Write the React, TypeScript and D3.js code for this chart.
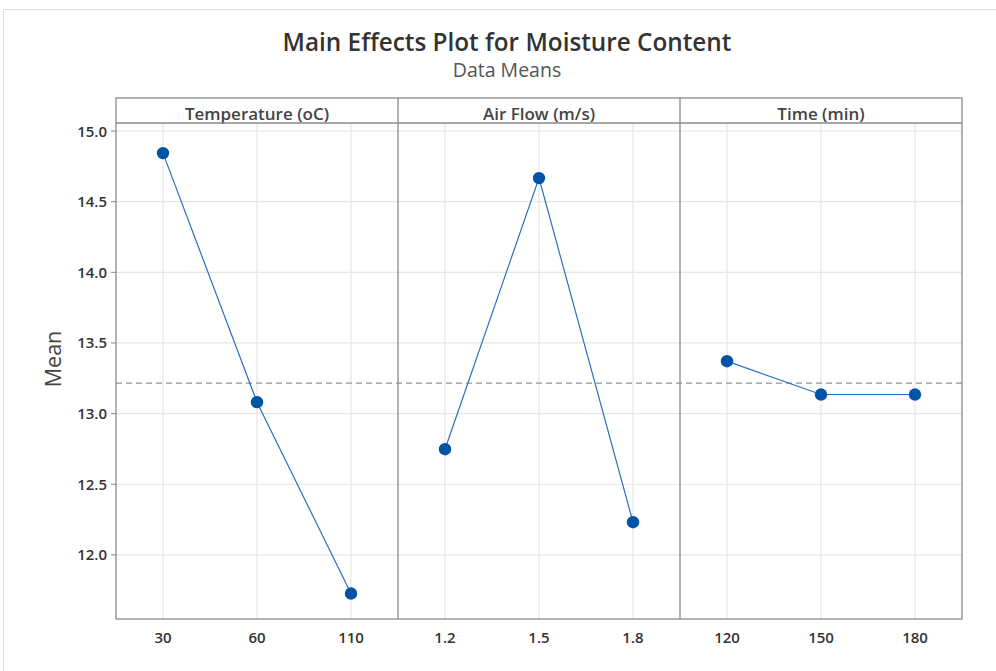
import React from "react";
import * as d3 from "d3";

const factors = ["Temperature (oC)", "Air Flow (m/s)", "Time (min)"];
const levels = [["30", "60", "110"], ["1.2", "1.5", "1.8"], ["120", "150", "180"]];
const means = [[14.844, 13.081, 11.726], [12.748, 14.667, 12.231], [13.371, 13.135, 13.135]];
const overallMean = 13.215;
const yTicks = [12.0, 12.5, 13.0, 13.5, 14.0, 14.5, 15.0];

const W = 996, H = 671;
const left = 116, right = 962, stripTop = 98, plotTop = 123, bottom = 619;
const font = "'Open Sans', 'Noto Sans', sans-serif";
const blue = "#0054A6";

export default function App() {
  const y = d3.scaleLinear().domain([11.546, 15.057]).range([bottom, plotTop]);
  const panelW = (right - left) / factors.length;
  return (
    <svg width={W} height={H} style={{ position: "absolute", left: 0, top: 0, background: "#fff" }}>
      <rect x={3.5} y={9.5} width={1000} height={700} fill="#fff" stroke="#dcdcdc" />
      <text x={507} y={51} textAnchor="middle" fontFamily={font} fontSize={24.3} fontWeight={600} fill="#333">
        Main Effects Plot for Moisture Content
      </text>
      <text x={507} y={77} textAnchor="middle" fontFamily={font} fontSize={19.5} fill="#555">
        Data Means
      </text>
      <text transform={`translate(61,359) rotate(-90)`} textAnchor="middle" fontFamily={font} fontSize={21.5} fill="#444">
        Mean
      </text>
      {factors.map((f, i) => {
        const x0 = left + i * panelW;
        const x = d3.scalePoint<string>().domain(levels[i]).range([x0, x0 + panelW]).padding(0.5);
        return (
          <g key={f}>
            {yTicks.map((t) => (
              <line key={t} x1={x0} x2={x0 + panelW} y1={y(t)} y2={y(t)} stroke="#e6e6e6" strokeWidth={1.2} />
            ))}
            {levels[i].map((l) => (
              <line key={l} x1={x(l)} x2={x(l)} y1={plotTop} y2={bottom} stroke="#e6e6e6" strokeWidth={1.2} />
            ))}
            {levels[i].map((l) => (
              <text key={l} x={x(l)} y={643} textAnchor="middle" fontFamily={font} fontSize={15} fontWeight={600} fill="#333">
                {l}
              </text>
            ))}
          </g>
        );
      })}
      <line x1={left} x2={right} y1={y(overallMean)} y2={y(overallMean)} stroke="#949494" strokeWidth={1.3} strokeDasharray="6,4" />
      {factors.map((f, i) => {
        const x0 = left + i * panelW;
        const x = d3.scalePoint<string>().domain(levels[i]).range([x0, x0 + panelW]).padding(0.5);
        const line = d3.line<number>().x((_, j) => x(levels[i][j])!).y((v) => y(v));
        return (
          <g key={"d" + f}>
            <path d={line(means[i]) || ""} fill="none" stroke="#2b6fc0" strokeWidth={1.2} />
            {means[i].map((v, j) => (
              <circle key={j} cx={x(levels[i][j])} cy={y(v)} r={6.2} fill={blue} />
            ))}
            <text x={x0 + panelW / 2} y={119.5} textAnchor="middle" fontFamily={font} fontSize={17} fontWeight={600} fill="#444">
              {f}
            </text>
          </g>
        );
      })}
      {yTicks.map((t) => (
        <g key={t}>
          <line x1={left - 5} x2={left} y1={y(t)} y2={y(t)} stroke="#888" />
          <text x={left - 9} y={y(t) + 5.5} textAnchor="end" fontFamily={font} fontSize={15} fontWeight={600} fill="#333">
            {t.toFixed(1)}
          </text>
        </g>
      ))}
      <rect x={left} y={stripTop} width={right - left} height={bottom - stripTop} fill="none" stroke="#8a8a8a" strokeWidth={1.3} />
      <line x1={left} x2={right} y1={plotTop} y2={plotTop} stroke="#8a8a8a" strokeWidth={1.3} />
      {[1, 2].map((k) => (
        <line key={k} x1={left + k * panelW} x2={left + k * panelW} y1={stripTop} y2={bottom} stroke="#8a8a8a" strokeWidth={1.3} />
      ))}
    </svg>
  );
}
